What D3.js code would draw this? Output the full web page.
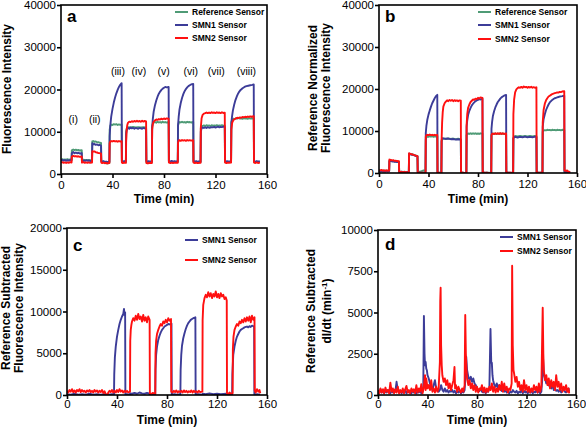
<!DOCTYPE html>
<html><head><meta charset="utf-8">
<script src="https://cdn.jsdelivr.net/npm/d3@7"></script>
<style>
body{margin:0;background:#fff;}
svg{display:block;font-family:"Liberation Sans",Arial,sans-serif;}
</style></head>
<body><svg id="c" width="586" height="427"></svg>
<script>
// ---------- DATA ----------
const xTicks = [0, 40, 80, 120, 160];
const yTicksAB = [0, 10000, 20000, 30000, 40000];
const yTicksC = [0, 5000, 10000, 15000, 20000];
const yTicksD = [0, 2500, 5000, 7500, 10000];
const seriesNames3 = ["Reference Sensor", "SMN1 Sensor", "SMN2 Sensor"];
const seriesNames2 = ["SMN1 Sensor", "SMN2 Sensor"];
const stepLabels = ["(i)","(ii)","(iii)","(iv)","(v)","(vi)","(vii)","(viii)"];
const stepLabelT = [9.5, 26.2, 44.2, 60.5, 79.7, 100.8, 120.6, 144];
const stepLabelY = [13000, 13000, 24300, 24300, 24300, 24300, 24300, 24300];

// Panel a: raw fluorescence intensity
const aRef = [[0,3400],[1,3500],[2,3350],[3,3450],[4,3400],[5,3500],[6,3350],[7,3450],[8.2,3400],
[8.4,5600],[9.5,5800],[10.5,5650],[11.5,5750],[12.5,5600],[13.5,5700],[14.5,5550],[16.1,5650],
[16.3,3300],[17.5,3400],[18.5,3250],[19.5,3350],[20.5,3250],[21.5,3350],[22.5,3250],[24.1,3300],
[24.3,7700],[25,7800],[26,7600],[27,7700],[28,7500],[29,7550],[30,7400],[31.1,7350],
[31.3,3000],[32,2900],[33,2950],[34,2700],[35,2550],[36,2500],[37.6,2600],
[37.8,10500],[38.3,11400],[39,11700],[40,11600],[41,11800],[42,11700],[43,11800],[44,11600],[45,11750],[46,11650],[47.1,11700],
[47.3,2900],[48,2800],[49,2900],[50.4,2850],
[50.6,10000],[51.2,10900],[52,11100],[54,11000],[56,11150],[58,11000],[60,11100],[62,11000],[64,11100],[66.1,11000],
[66.3,2850],[67.5,2750],[68.5,2850],[70.6,2800],
[70.8,11300],[71.3,11900],[72,12200],[73,12300],[74,12150],[75,12350],[76,12200],[77,12300],[78,12150],[79,12350],[80,12200],[81,12300],[82,12150],[83.6,12300],
[83.8,2900],[85,2800],[86,2900],[87,2800],[88,2900],[90.7,2850],
[90.9,11500],[91.4,12000],[92,12300],[93,12200],[94,12350],[95,12200],[96,12300],[97,12150],[98,12350],[99,12250],[100,12300],[101,12200],[102.7,12300],
[102.9,2900],[104,2800],[105,2900],[106,2800],[108.4,2850],
[108.6,10800],[109.2,11300],[110,11400],[111,11500],[112,11350],[113,11550],[114,11400],[115,11500],[116,11350],[117,11550],[118,11400],[119,11500],[120,11400],[121,11550],[122,11400],[123,11500],[124,11450],[125,11550],[126,11400],[127.2,11500],
[127.4,2850],[128.5,2750],[129.5,2850],[130.5,2800],[132.1,2850],
[132.3,12300],[133,12900],[134,13100],[135,13000],[136,13200],[137,13100],[138,13250],[139,13100],[140,13200],[141,13050],[142,13250],[143,13100],[144,13200],[145,13050],[146,13250],[147,13100],[148,13200],[149.7,13150],
[149.9,2900],[151,2800],[152,2950],[153,2850],[154.5,2900]];

const aSMN1 = [[0,3200],[1,3350],[2,3150],[3,3300],[4,3100],[5,3250],[6,3150],[7,3300],[8.2,3200],
[8.4,4900],[9.5,5200],[10.5,4900],[11.5,5100],[12.5,4900],[13.5,5050],[14.5,4850],[16.1,4950],
[16.3,3200],[17,3050],[18,3200],[19,3100],[20,3250],[21,3100],[22,3200],[23,3050],[24.1,3150],
[24.3,7300],[25,7000],[26,7100],[27,6900],[28,7000],[29,6800],[30,6900],[31.1,6700],
[31.3,3100],[32,2900],[33,3050],[34,2850],[35,2950],[36,2800],[37,2950],[37.6,2900],
[37.8,9000],[38.3,11500],[39,13600],[40,15400],[41,16900],[42,18100],[43,19100],[44,19900],[45,20600],[46,21100],[47.1,21500],
[47.3,3100],[48,2900],[49,3050],[50.4,2950],
[50.6,9500],[51.2,10600],[52,10900],[53,10700],[54,11000],[55,10800],[56,10900],[57,10700],[58,10900],[59,10800],[60,10700],[61,10900],[62,10800],[63,10700],[64,10900],[65,10800],[66.1,10700],
[66.3,3100],[67,2900],[68,3050],[69,2950],[70.6,3000],
[70.8,11000],[71.3,13000],[72,14800],[73,16300],[74,17400],[75,18300],[76,19000],[77,19500],[78,19900],[79,20200],[80,20400],[81,20600],[82,20500],[83.6,20600],
[83.8,3100],[85,2950],[86,3100],[87,2900],[88,3050],[89,2950],[90.7,3000],
[90.9,11500],[91.4,13500],[92,15200],[93,16800],[94,18000],[95,18900],[96,19600],[97,20100],[98,20500],[99,20800],[100,21000],[101,21200],[102.7,21300],
[102.9,3100],[104,2950],[105,3050],[106,2900],[107,3000],[108.4,2950],
[108.6,10000],[109.2,10900],[110,11000],[111,10900],[112,11050],[113,10900],[114,11100],[115,10950],[116,11000],[117,11100],[118,11050],[119,11150],[120,11000],[121,11100],[122,11200],[123,11050],[124,11150],[125,11100],[126,11200],[127.2,11100],
[127.4,3100],[128,2900],[129,3050],[130,2950],[132.1,3000],
[132.3,12000],[132.8,13500],[133.5,15000],[134.5,16400],[135.5,17500],[136.5,18300],[137.5,19000],[138.5,19500],[139.5,19900],[141,20300],[142.5,20600],[144,20800],[145.5,20900],[147,21000],[148.5,21100],[149.7,21200],
[149.9,3100],[151,2900],[152,3050],[153,2950],[154.5,3000]];

const aSMN2 = [[0,2700],[1,2800],[2,2650],[3,2750],[4,2600],[5,2750],[6,2650],[7,2800],[8.2,2700],
[8.4,4100],[9.5,4300],[10.5,4150],[11.5,4250],[12.5,4100],[13.5,4200],[14.5,4050],[16.1,4150],
[16.3,2700],[17.5,2800],[18.5,2650],[19.5,2750],[20.5,2650],[21.5,2750],[22.5,2650],[24.1,2700],
[24.3,5400],[25,5300],[26,5350],[27,5150],[28,5100],[29,4950],[30,4950],[31.1,4800],
[31.3,2700],[32,2600],[33,2700],[34,2550],[35,2650],[36,2500],[37.6,2600],
[37.8,7300],[38.3,7700],[39,7800],[40,7700],[41,7850],[42,7700],[43,7800],[44,7650],[45,7800],[46,7700],[47.1,7750],
[47.3,2700],[48,2600],[49,2700],[50.4,2650],
[50.6,7800],[51,10500],[51.5,11600],[52,12100],[53,12400],[54,12300],[55,12500],[56,12350],[57,12550],[58,12400],[59,12600],[60,12400],[61,12550],[62,12350],[63,12600],[64,12400],[65,12550],[66.1,12450],
[66.3,2600],[67.5,2500],[68.5,2650],[70.6,2600],
[70.8,10500],[71.3,11800],[72,12400],[73,12700],[74,12900],[75,12800],[76,13000],[77,12900],[78,13100],[79,12950],[80,13150],[81,13000],[82,13150],[83.6,13100],
[83.8,2700],[85,2600],[86,2700],[87,2600],[88,2700],[90.7,2650],
[90.9,7400],[91.4,7900],[92,8000],[93,7850],[94,8050],[95,7900],[96,8000],[97,7850],[98,8050],[99,7900],[100,8000],[101,7900],[102.7,8000],
[102.9,2700],[104,2600],[105,2700],[106,2600],[108.4,2650],
[108.6,11000],[109.2,13200],[110,14000],[111,14300],[112,14400],[113,14550],[114,14400],[115,14550],[116,14400],[117,14600],[118,14450],[119,14550],[120,14400],[121,14600],[122,14450],[123,14550],[124,14400],[125,14600],[126,14450],[127.2,14500],
[127.4,2700],[128.5,2600],[129.5,2700],[130.5,2650],[132.1,2700],
[132.3,10500],[133,12200],[134,12800],[135,13000],[136,13200],[137,13300],[138,13250],[139,13400],[140,13300],[141,13500],[142,13400],[143,13550],[144,13450],[145,13600],[146,13500],[147,13650],[148,13550],[149.7,13700],
[149.9,2700],[151,2600],[152,2750],[153,2600],[154.5,2700]];

// Panel b: reference normalized
const bRef = [[0,500],[1,600],[2,450],[3,550],[4,500],[5,600],[6,450],[7,550],[8.2,500],
[8.4,2900],[9.5,3000],[10.5,2850],[11.5,2900],[12.5,2750],[13.5,2800],[14.5,2650],[16.1,2700],
[16.3,300],[17.5,200],[18.5,300],[19.5,200],[20.5,300],[21.5,200],[22.5,250],[24.1,200],
[24.3,4500],[25,4600],[26,4400],[27,4450],[28,4300],[29,4250],[30,4100],[31.1,4000],
[31.3,300],[32,200],[33,300],[34,400],[35,500],[36,600],[37.6,500],
[37.8,8000],[38.3,8500],[39,8700],[40,8600],[41,8800],[42,8650],[43,8800],[44,8600],[45,8750],[46,8650],[47.1,8700],
[47.3,100],[48,0],[49,100],[50.4,0],
[50.6,7500],[51.2,8100],[52,8200],[54,8100],[56,8250],[58,8100],[60,8200],[62,8050],[64,8150],[66.1,8000],
[66.3,0],[67.5,100],[68.5,0],[70.6,100],
[70.8,9000],[71.3,9300],[72,9400],[73,9300],[74,9450],[75,9300],[76,9450],[77,9350],[78,9450],[79,9300],[80,9400],[81,9300],[82,9450],[83.6,9350],
[83.8,100],[85,0],[86,100],[87,0],[88,100],[90.7,0],
[90.9,9000],[91.4,9300],[92,9400],[93,9300],[94,9400],[95,9250],[96,9400],[97,9300],[98,9400],[99,9300],[100,9400],[101,9300],[102.7,9350],
[102.9,100],[104,0],[105,100],[106,0],[108.4,100],
[108.6,8300],[109.2,8700],[110,8800],[112,8700],[114,8850],[116,8700],[118,8800],[120,8700],[122,8850],[124,8700],[126,8800],[127.2,8750],
[127.4,100],[128.5,0],[129.5,100],[130.5,0],[132.1,100],
[132.3,9800],[133,10100],[134,10200],[135,10150],[136,10300],[137,10200],[138,10250],[139,10150],[140,10300],[141,10200],[142,10250],[143,10150],[144,10300],[145,10200],[146,10250],[147,10150],[148,10300],[149.7,10200],
[149.9,200],[151,100],[152,200],[153,100],[154.5,200]];

const bSMN1 = [[0,400],[1,300],[2,450],[3,350],[4,400],[5,300],[6,450],[7,350],[8.2,400],
[8.4,2800],[9.5,2900],[10.5,2750],[11.5,2800],[12.5,2650],[13.5,2700],[14.5,2600],[16.1,2650],
[16.3,300],[17.5,200],[18.5,300],[19.5,150],[20.5,250],[21.5,150],[22.5,250],[24.1,200],
[24.3,4600],[25,4500],[26,4400],[27,4350],[28,4250],[29,4150],[30,4050],[31.1,3900],
[31.3,100],[32,0],[33,100],[34,0],[35,100],[36,0],[37.6,100],
[37.8,9500],[38.3,11200],[39,12600],[40,13900],[41,14900],[42,15800],[43,16600],[44,17200],[45,17800],[46,18300],[47.1,18600],
[47.3,0],[48,100],[49,0],[50.4,100],
[50.6,7800],[51.2,8300],[52,8250],[54,8150],[56,8200],[58,8050],[60,8100],[62,7950],[64,8050],[66.1,7950],
[66.3,0],[67.5,100],[68.5,0],[70.6,100],
[70.8,11000],[71.3,12500],[72,13800],[73,14800],[74,15500],[75,16100],[76,16500],[77,16800],[78,17100],[79,17300],[80,17400],[81,17600],[82,17500],[83.6,17700],
[83.8,0],[85,100],[86,0],[87,100],[88,0],[90.7,100],
[90.9,10500],[91.4,12200],[92,13500],[93,14700],[94,15600],[95,16300],[96,16900],[97,17300],[98,17700],[99,18000],[100,18200],[101,18400],[102.7,18600],
[102.9,0],[104,100],[105,0],[106,100],[108.4,0],
[108.6,8200],[109.2,8500],[110,8600],[112,8450],[114,8600],[116,8500],[118,8650],[120,8500],[122,8600],[124,8500],[126,8650],[127.2,8550],
[127.4,0],[128.5,100],[129.5,0],[130.5,100],[132.1,0],
[132.3,11000],[133,12800],[134,14000],[135,15000],[136,15700],[137,16300],[138,16800],[139,17100],[140,17400],[141,17600],[142,17800],[143,17900],[144,18000],[145,18100],[146,18200],[147,18250],[148,18300],[149.7,18400],
[149.9,300],[151,200],[152,300],[153,200],[154.5,300]];

const bSMN2 = [[0,700],[1,600],[2,750],[3,550],[4,650],[5,500],[6,650],[7,550],[8.2,600],
[8.4,3200],[9.5,3100],[10.5,3000],[11.5,3050],[12.5,2900],[13.5,2950],[14.5,2850],[16.1,2800],
[16.3,200],[17.5,300],[18.5,150],[19.5,250],[20.5,150],[21.5,250],[22.5,150],[24.1,200],
[24.3,4700],[25,4600],[26,4500],[27,4400],[28,4350],[29,4200],[30,4100],[31.1,4000],
[31.3,100],[32,0],[33,100],[34,0],[35,100],[36,0],[37.6,100],
[37.8,8600],[38.3,9000],[39,9100],[40,9000],[41,9150],[42,9000],[43,9100],[44,8950],[45,9100],[46,9000],[47.1,9050],
[47.3,0],[48,100],[49,0],[50.4,100],
[50.6,8000],[51,12000],[51.5,14500],[52,15800],[53,16600],[54,17000],[55,17300],[56,17100],[57,17400],[58,17200],[59,17400],[60,17100],[61,17350],[62,17150],[63,17300],[64,17100],[65,17300],[66.1,17200],
[66.3,0],[67.5,100],[68.5,0],[70.6,100],
[70.8,11500],[71.3,14000],[72,15500],[73,16300],[74,16900],[75,17200],[76,17500],[77,17400],[78,17700],[79,17600],[80,17900],[81,17700],[82,18000],[83.6,17900],
[83.8,0],[85,100],[86,0],[87,100],[88,0],[90.7,100],
[90.9,9000],[91.4,9300],[92,9400],[93,9250],[94,9450],[95,9300],[96,9450],[97,9300],[98,9500],[99,9300],[100,9450],[101,9300],[102.7,9400],
[102.9,0],[104,100],[105,0],[106,100],[108.4,0],
[108.6,14000],[109.2,17500],[110,19200],[111,19900],[112,20200],[113,20400],[114,20300],[115,20500],[116,20300],[117,20600],[118,20400],[119,20500],[120,20300],[121,20500],[122,20350],[123,20550],[124,20300],[125,20450],[126,20300],[127.2,20400],
[127.4,0],[128.5,100],[129.5,0],[130.5,100],[132.1,0],
[132.3,12000],[133,15000],[134,16500],[135,17300],[136,17800],[137,18200],[138,18400],[139,18600],[140,18800],[141,18900],[142,19000],[143,19100],[144,19200],[145,19150],[146,19300],[147,19250],[148,19400],[149.7,19500],
[149.9,600],[151,500],[152,600],[153,300],[154.5,200]];

// Panel c: reference subtracted
const cSMN1 = [[0,100],[3,50],[6,150],[9,50],[12,100],[15,50],[18,150],[21,50],[24,100],[27,50],[30,100],[33,50],[36,100],[37.6,100],
[37.8,2500],[38.3,4500],[39,5800],[40,7000],[41,7800],[42,8500],[43,9000],[44,9400],[45,9700],[45.6,10300],[46,9600],[46.5,9900],
[46.7,100],[48,100],[50.4,50],
[50.6,200],[52,150],[54,250],[56,150],[58,300],[60,200],[62,150],[64,250],[66.1,150],
[66.3,50],[68,100],[70.6,50],
[70.8,3000],[71.3,4800],[72,5800],[73,6600],[74,7100],[75,7500],[76,7800],[77,8000],[78,8200],[79,8300],[80,8400],[81,8500],[82,8450],[83.6,8550],
[83.8,50],[86,100],[88,50],[90.7,100],
[90.9,3000],[91.4,4800],[92,5900],[93,6800],[94,7400],[95,7900],[96,8300],[97,8600],[98,8800],[99,9000],[100,9100],[101,9200],[102.7,9300],
[102.9,50],[105,100],[108.4,50],
[108.6,150],[111,100],[114,200],[117,100],[120,150],[123,100],[127.2,150],
[127.4,50],[130,100],[132.1,50],
[132.3,2500],[133,4800],[134,5800],[135,6500],[136,7000],[137,7300],[138,7600],[139,7800],[140,7900],[141,8000],[142,8100],[143,8150],[144,8200],[145,8100],[146,8250],[147,8150],[148,8300],[149.7,8200],
[149.9,50],[152,100],[154.5,50]];

const cSMN2 = [[0,500],[1,300],[2,600],[3,400],[4,700],[5,350],[6,550],[7,300],[8,600],[9,450],[10,700],[11,350],[12,600],[13,400],[14,500],[15,300],[16,550],[17,400],[18,600],[19,350],[20,500],[21,300],[22,600],[23,400],[24,550],[25,300],[26,500],[27,350],[28,600],[29,250],[30,450],[31,100],[31.5,0],[32.5,0],[33,300],[34,500],[35,350],[36,600],[37,300],
[38,500],[39,300],[40,600],[41,350],[42,700],[43,400],[44,550],[45,300],[46,500],[47,350],[48,500],[49,300],[50.4,400],
[50.6,6500],[51,7800],[51.5,8400],[52,8800],[53,9200],[54,8900],[55,9500],[56,9000],[57,9700],[58,9100],[59,9400],[60,8800],[61,9600],[62,8900],[63,9300],[64,8700],[65,9400],[66.1,9000],
[66.3,200],[67.5,100],[68.5,250],[70.6,150],
[70.8,5000],[71.3,6500],[72,7300],[73,7800],[74,8200],[75,8500],[76,8300],[77,8800],[78,8600],[79,9000],[80,8700],[81,9200],[82,8900],[83.2,9100],
[83.4,400],[84.5,300],[85.5,500],[86.5,350],[87.5,550],[88.5,300],[89.5,450],[90.5,350],
[91.5,500],[92.5,300],[93.5,550],[94.5,350],[95.5,500],[96.5,300],[97.5,450],[98.5,350],[99.5,550],[100.5,300],[101.5,500],[102.5,350],[103.5,450],[104.5,300],[105.5,500],[106.5,350],[108.3,400],
[108.5,9000],[109,10800],[110,11600],[111,12000],[112,11700],[113,12300],[114,11800],[115,12200],[116,11600],[117,12100],[118,11800],[119,12400],[120,11700],[121,12100],[122,11600],[123,12200],[124,11800],[125,12000],[126,11500],[127,11700],[127.8,11300],
[128,200],[129,100],[130,300],[131,150],[132.5,200],
[132.7,5500],[133.2,7000],[134,7800],[135,8200],[136,8500],[137,8300],[138,8800],[139,8600],[140,9000],[141,8700],[142,9200],[143,8800],[144,9300],[145,8900],[146,9400],[147,8700],[148,9500],[149,9000],[150,9300],
[150.2,500],[151,300],[152,700],[153,400],[154,600],[154.6,200]];

// Panel d: derivative dI/dt
const dSMN1 = [[0,200],[1,100],[2,350],[3,150],[4,300],[5,100],[6,250],[7,150],[8,300],[9,200],[10,100],[11,250],[12,150],[13,300],[14,200],[15,800],[16,300],[17,150],[18,250],[19,100],[20,200],[21,150],[22,300],[23,100],[24,250],[25,150],[26,200],[27,100],[28,300],[29,150],[30,250],[31,100],[32,200],[33,150],[34,300],[35,100],[36,200],[36.6,500],[37.1,4790],[37.6,2500],[38,1800],[38.5,2000],[39,1600],[39.5,1500],[40,1200],[41,1000],[42,700],[43,500],[44,300],[45,600],[46,900],[47,400],[48,300],[49,200],[50,300],[51,600],[52,300],[53,200],[54,400],[55,200],[56,300],[57,150],[58,250],[59,200],[60,300],[61,150],[62,250],[63,100],[64,200],[65,150],[66,300],[67,100],[68,200],[69,150],[70,300],[70.8,1200],[71.3,2320],[72,1500],[73,1100],[74,900],[75,1100],[76,800],[77,1000],[78,700],[79,600],[80,400],[81,300],[82,250],[83,400],[84,200],[85,150],[86,300],[87,100],[88,250],[89,200],[90,400],[90.9,4000],[91.5,2000],[92,1950],[92.5,1200],[93,900],[94,600],[95,500],[96,700],[97,400],[98,600],[99,300],[100,250],[101,400],[102,200],[103,300],[104,150],[105,250],[106,100],[107,200],[108,150],[109,300],[110,200],[111,150],[112,250],[113,100],[114,200],[115,150],[116,300],[117,100],[118,250],[119,150],[120,200],[121,100],[122,300],[123,150],[124,250],[125,100],[126,200],[127,150],[128,300],[129,150],[130,250],[131,100],[132,200],[132.8,1000],[133.4,2200],[134,1300],[135,1000],[136,700],[137,900],[138,600],[139,500],[140,400],[141,600],[142,300],[143,400],[144,250],[145,300],[146,200],[147,350],[148,150],[149,250],[150,400],[151,200],[152,150],[153,300],[154,400],[154.5,200]];

const dSMN2 = [[0,300],[1,100],[2,400],[3,150],[4,350],[5,100],[6,450],[7,200],[8,300],[9,100],[10,750],[11,200],[12,400],[13,100],[14,350],[15,150],[16,500],[17,100],[18,300],[19,150],[20,400],[21,100],[22,350],[23,550],[24,150],[25,300],[26,100],[27,400],[28,200],[29,350],[30,100],[31,600],[32,150],[33,400],[34,200],[35,650],[36,100],[37,450],[38,1200],[38.5,300],[39,1000],[40,400],[41,600],[42,300],[43,900],[44,200],[45,400],[46,150],[47,500],[48,200],[49,400],[50,2000],[50.3,5700],[50.6,6500],[51,3000],[51.5,1800],[52,1200],[53,800],[54,1000],[55,600],[56,900],[57,400],[58,700],[59,300],[60,600],[61,900],[61.8,1700],[62.3,400],[63,600],[64,200],[65,500],[66,300],[67,150],[68,400],[69,200],[70,600],[70.5,4850],[71,2500],[71.5,1500],[72,1000],[73,600],[74,900],[75,400],[76,700],[77,300],[78,600],[79,200],[80,500],[81,150],[82,400],[83,300],[84,600],[85,200],[86,450],[87,150],[88,400],[89,200],[90,500],[91,300],[92,700],[93,200],[94,500],[95,150],[96,400],[97,200],[98,600],[99,300],[100,800],[101,200],[102,700],[103,300],[104,500],[105,150],[106,400],[107,300],[108,700],[108.4,7840],[108.9,3000],[109.5,1500],[110,1300],[111,800],[112,1100],[113,500],[114,800],[115,300],[116,600],[117,200],[118,900],[119,300],[120,600],[121,200],[122,500],[123,150],[124,400],[125,200],[126,600],[127,300],[128,500],[129,150],[130,700],[131,200],[132,500],[133.1,5290],[133.6,2500],[134,1500],[135,900],[136,1200],[137,600],[138,1000],[139,400],[140,900],[141,500],[142,800],[143,300],[144,1200],[145,500],[146,800],[147,300],[148,700],[149,200],[150,500],[151,300],[152,600],[153,200],[154,400],[154.5,100]];

// ---------- DRAW ----------
const COL_REF = "#4f9b76", COL_S1 = "#3c3c98", COL_S2 = "#ff1010";
const svg = d3.select("#c");

const panels = [
  {letter:"a", L:61, R:267, T:5, B:174, ymax:40000, yt:yTicksAB,
   series:[{d:aRef,c:COL_REF},{d:aSMN1,c:COL_S1},{d:aSMN2,c:COL_S2}],
   legend:{names:seriesNames3, cols:[COL_REF,COL_S1,COL_S2], x:175, ys:[12,25,38]},
   ytitle:["Fluorescence Intensity"], ytx:[7], yty:89, xtb:203, tlb:189, lx:67, ly:22},
  {letter:"b", L:379, R:577, T:5, B:173, ymax:40000, yt:yTicksAB,
   series:[{d:bRef,c:COL_REF},{d:bSMN1,c:COL_S1},{d:bSMN2,c:COL_S2}],
   legend:{names:seriesNames3, cols:[COL_REF,COL_S1,COL_S2], x:478, ys:[12,25,39]},
   ytitle:["Reference Normalized","Fluorescence Intensity"], ytx:[313,326], yty:88, xtb:203, tlb:188, lx:385, ly:22},
  {letter:"c", L:67, R:267, T:228, B:395, ymax:20000, yt:yTicksC,
   series:[{d:cSMN1,c:COL_S1},{d:cSMN2,c:COL_S2}],
   legend:{names:seriesNames2, cols:[COL_S1,COL_S2], x:185, ys:[240,260]},
   ytitle:["Reference Subtracted","Fluorescence Intensity"], ytx:[6,19], yty:308, xtb:424, tlb:408, lx:73, ly:251},
  {letter:"d", L:378, R:576, T:230, B:395, ymax:10000, yt:yTicksD,
   series:[{d:dSMN1,c:COL_S1},{d:dSMN2,c:COL_S2}],
   legend:{names:seriesNames2, cols:[COL_S1,COL_S2], x:500, ys:[237,251]},
   ytitle:["Reference Subtracted","dI/dt (min"], ytx:[311,327], yty:311, xtb:424, tlb:408, lx:385, ly:250}
];

panels.forEach(p => {
  const x = d3.scaleLinear().domain([0,160]).range([p.L,p.R]);
  const y = d3.scaleLinear().domain([0,p.ymax]).range([p.B,p.T]);
  const g = svg.append("g");
  const clipId = "clip"+p.letter;
  svg.append("clipPath").attr("id",clipId).append("rect")
    .attr("x",p.L).attr("y",p.T).attr("width",p.R-p.L).attr("height",p.B-p.T);
  const line = d3.line().x(d=>x(d[0])).y(d=>y(d[1]));
  const sg = g.append("g").attr("clip-path",`url(#${clipId})`);
  p.series.forEach(s => {
    sg.append("path").attr("d",line(s.d)).attr("fill","none")
      .attr("stroke",s.c).attr("stroke-width",1.9).attr("stroke-linejoin","round");
  });
  // frame
  g.append("rect").attr("x",p.L).attr("y",p.T).attr("width",p.R-p.L).attr("height",p.B-p.T)
    .attr("fill","none").attr("stroke","#000").attr("stroke-width",1.6);
  // axes
  const xa = d3.axisBottom(x).tickValues(xTicks).tickSize(4).tickPadding(3).tickFormat(d3.format("d"));
  const ya = d3.axisLeft(y).tickValues(p.yt).tickSize(4).tickPadding(1).tickFormat(d3.format("d"));
  const gx = g.append("g").attr("transform",`translate(0,${p.B})`).call(xa);
  const gy = g.append("g").attr("transform",`translate(${p.L},0)`).call(ya);
  [gx,gy].forEach(a=>{
    a.select(".domain").remove();
    a.selectAll("line").attr("stroke","#000").attr("stroke-width",1.6);
    a.selectAll("text").attr("font-size","11.5px").attr("fill","#000")
      .attr("font-family","'Liberation Sans',Arial,sans-serif");
  });
  gx.selectAll("text").attr("y",null).attr("dy",null)
    .attr("transform",`translate(0,${p.tlb-p.B})`);
  // x title
  g.append("text").attr("x",(p.L+p.R)/2).attr("y",p.xtb).attr("text-anchor","middle")
    .attr("font-weight","bold").attr("font-size","12px").text("Time (min)");
  // y title
  p.ytitle.forEach((t,i)=>{
    const tx = g.append("text").attr("transform",`translate(${p.ytx[i]},${p.yty}) rotate(-90)`)
      .attr("text-anchor","middle").attr("dy","0.35em")
      .attr("font-weight","bold").attr("font-size","12px").text(t);
    if (p.letter==="d" && i===1) {
      tx.append("tspan").attr("font-size","8px").attr("dy","-0.5em").text("-1");
      tx.append("tspan").attr("dy","0.35em").text(")");
    }
  });
  // panel letter
  g.append("text").attr("x",p.lx).attr("y",p.ly).attr("font-weight","bold")
    .attr("font-size","17px").text(p.letter);
  // legend
  p.legend.names.forEach((n,i)=>{
    const yy = p.legend.ys[i];
    g.append("line").attr("x1",p.legend.x).attr("x2",p.legend.x+13).attr("y1",yy).attr("y2",yy)
      .attr("stroke",p.legend.cols[i]).attr("stroke-width",2);
    g.append("text").attr("x",p.legend.x+17).attr("y",yy).attr("dy","0.35em")
      .attr("font-weight","bold").attr("font-size","8.5px").text(n);
  });
  // step labels in panel a
  if (p.letter==="a") {
    stepLabels.forEach((s,i)=>{
      g.append("text").attr("x",x(stepLabelT[i])).attr("y",y(stepLabelY[i]))
        .attr("text-anchor","middle").attr("dy","0.35em").attr("font-size","10.5px").text(s);
    });
  }
});
</script></body></html>
